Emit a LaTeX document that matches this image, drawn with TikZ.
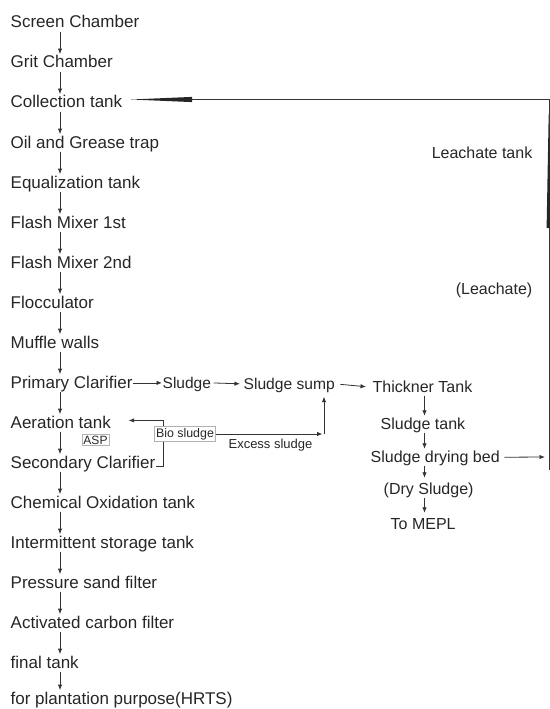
\documentclass[tikz,border=0pt]{standalone}
\usepackage{fontspec}
\setmainfont{Liberation Sans}
\usetikzlibrary{arrows.meta,calc}
\begin{document}
\begin{tikzpicture}[x=1bp,y=-1bp,
  lt/.style={font=\fontsize{17bp}{20bp}\selectfont, text=black!85, anchor=base west,
    inner xsep=0.5bp, inner ysep=1.5bp, text height=12.2bp, text depth=2bp},
  rt/.style={font=\fontsize{16bp}{19bp}\selectfont, text=black!85, anchor=base west,
    inner xsep=0.5bp, inner ysep=1.5bp, text height=11.5bp, text depth=2bp},
  boxlbl/.style={draw=black!30, line width=0.6bp, text=black!85, inner sep=1.5bp},
  arr/.style={-{Latex[length=5.5bp,width=4.4bp]}, line width=0.8bp, draw=black!80},
  ln/.style={line width=0.8bp, draw=black!80},
]
\useasboundingbox (0,0) rectangle (550,709);
% left column
\node[lt] (l0)  at (10,28)  {Screen Chamber};
\node[lt] (l1)  at (10,68)  {Grit Chamber};
\node[lt] (l2)  at (10,108) {Collection tank};
\node[lt] (l3)  at (10,148) {Oil and Grease trap};
\node[lt] (l4)  at (10,188) {Equalization tank};
\node[lt] (l5)  at (10,228) {Flash Mixer 1st};
\node[lt] (l6)  at (10,268) {Flash Mixer 2nd};
\node[lt] (l7)  at (10,308) {Flocculator};
\node[lt] (l8)  at (10,348) {Muffle walls};
\node[lt] (l9)  at (10,388) {Primary Clarifier};
\node[lt] (l10) at (10,428) {Aeration tank};
\node[lt] (l11) at (10,468) {Secondary Clarifier};
\node[lt] (l12) at (10,508) {Chemical Oxidation tank};
\node[lt] (l13) at (10,548) {Intermittent storage tank};
\node[lt] (l14) at (10,588) {Pressure sand filter};
\node[lt] (l15) at (10,628) {Activated carbon filter};
\node[lt] (l16) at (10,668) {final tank};
\node[lt] (l17) at (10,704) {for plantation purpose(HRTS)};
\coordinate (ax) at (60,0);
\foreach \i [evaluate=\i as \j using int(\i+1)] in {0,...,16}
  \draw[arr] (l\i.south -| ax) -- (l\j.north -| ax);
% sludge line
\node[lt, font=\fontsize{15.5bp}{18bp}\selectfont] (sl) at (162,388) {Sludge};
\node[lt, font=\fontsize{15.6bp}{18bp}\selectfont] (sp) at (243,389) {Sludge sump};
\node[rt] (th) at (372,392) {Thickner Tank};
\node[rt] (st) at (380,429) {Sludge tank};
\node[rt] (db) at (370,462) {Sludge drying bed};
\node[rt] (ds) at (383,494) {(Dry Sludge)};
\node[rt] (tm) at (390,529) {To MEPL};
\draw[arr] (l9.east) -- (sl.west);
\draw[arr, shorten <=2bp, shorten >=3bp] (sl.east) -- (sp.west);
\draw[arr, shorten <=5bp, shorten >=6bp] (sp.east) -- (th.west);
\coordinate (bx) at (424.5,0);
\draw[arr] (th.south -| bx) -- (st.north -| bx);
\draw[arr] (st.south -| bx) -- (db.north -| bx);
\draw[arr, shorten >=3bp] (db.south -| bx) -- (ds.north -| bx);
\draw[arr, shorten >=3bp] (ds.south -| bx) -- (tm.north -| bx);
% bio sludge
\node[boxlbl, font=\fontsize{12.4bp}{14bp}\selectfont] (bio) at (185,434) {Bio sludge};
\node[boxlbl, font=\fontsize{12bp}{14bp}\selectfont] (asp) at (95.5,440) {ASP};
\node[font=\fontsize{13bp}{15bp}\selectfont, text=black!85, inner sep=0] (ex) at (270.5,445) {Excess sludge};
\coordinate (vx) at (163,0);
\draw[arr] (bio.north -| vx) |- ([xshift=17bp,yshift=2.5bp]l10.east);
\draw[ln] ([yshift=-3bp]l11.east) -| (bio.south -| vx);
\coordinate (cx) at (324,434);
\draw[arr] (bio.east) -- ([xshift=-1.5bp]cx);
\draw[arr, shorten >=4bp] (cx) -- (sp.south -| cx);
% leachate loop
\node[rt, anchor=east] (lt) at (533,154) {Leachate tank};
\node[rt, anchor=east] (lc) at (533,290) {(Leachate)};
\coordinate (rb) at (549,470);
\coordinate (rtop) at (549,99.5);
\coordinate (wt) at ([xshift=8bp]l2.east |- rtop);
\coordinate (wb) at (192,99.5);
\draw[arr, shorten <=4bp] (db.east) -- (545,457);
\draw[ln] (rb) -- (rtop) -- (wb);
\fill[black!85] (wt) -- ([yshift=2.6bp]wb) -- ([yshift=-2.6bp]wb) -- cycle;
\fill[black!85] (548.7,113) -- (546.6,228) -- (551,228) -- cycle;
\end{tikzpicture}
\end{document}
